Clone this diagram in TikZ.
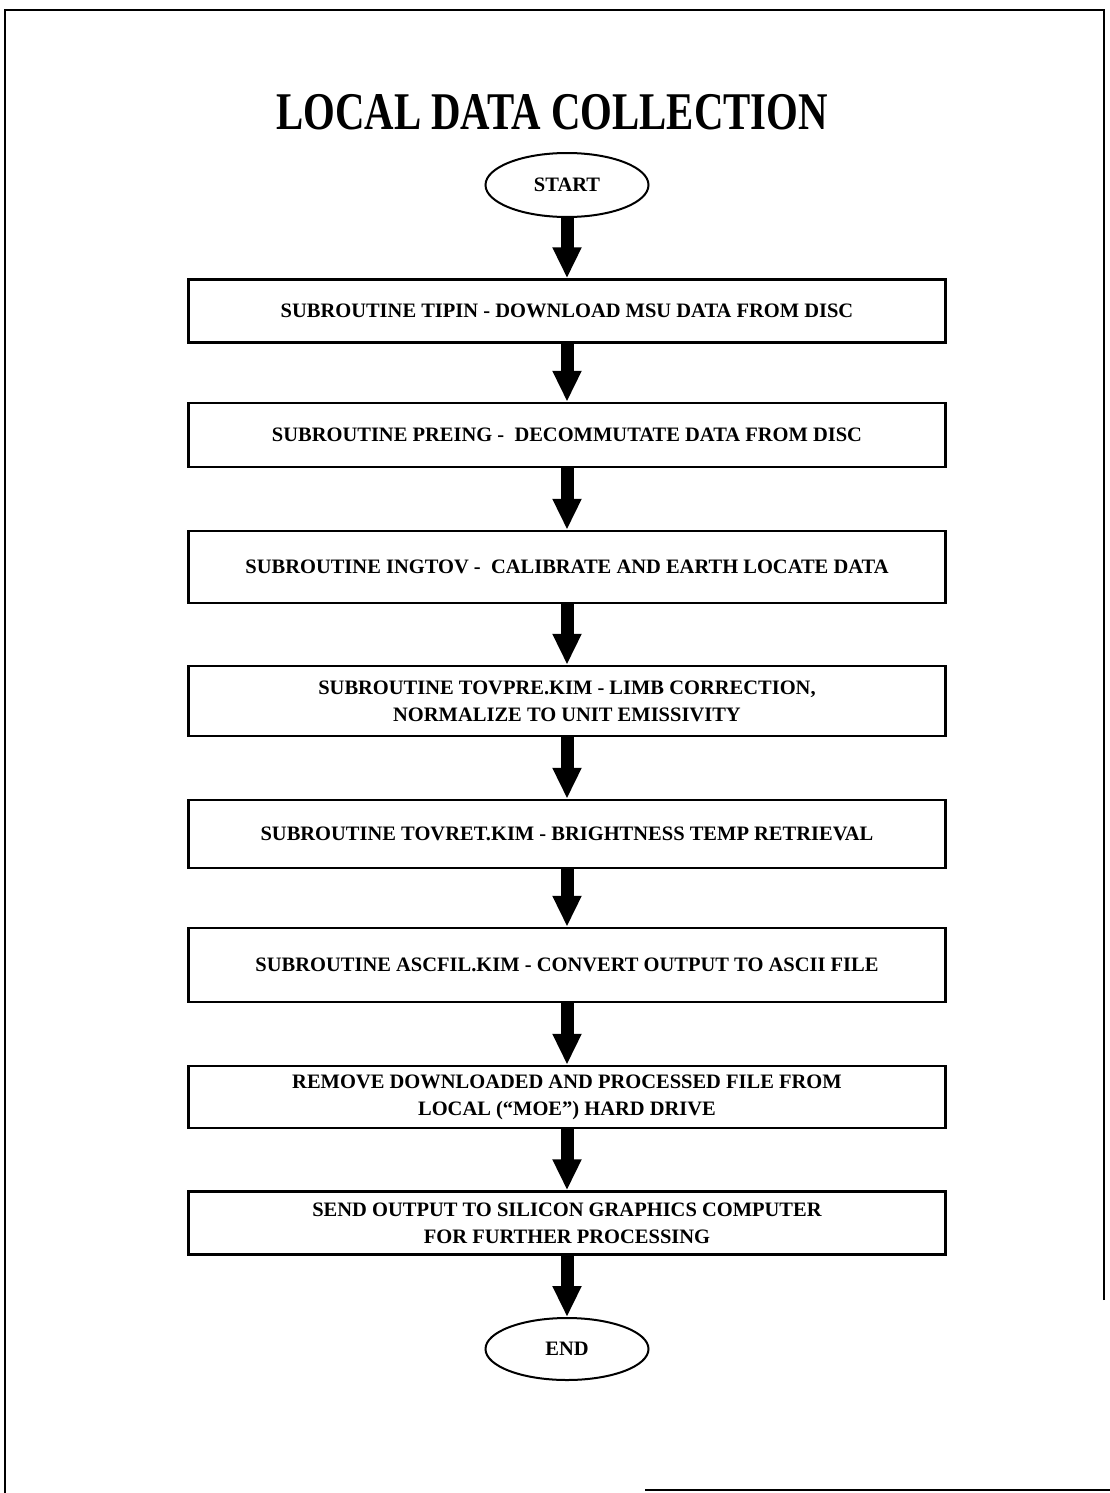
\documentclass[tikz,border=0pt]{standalone}
\usepackage{fontspec}
\setmainfont{Liberation Serif}
\usepackage{graphicx}
\usetikzlibrary{shapes.geometric, arrows.meta, positioning}

\begin{document}
\begin{tikzpicture}[
    x=1pt, y=-1pt,
    every node/.style={font=\bfseries\fontsize{20.5}{27}\selectfont},
    terminal/.style={ellipse, draw=black, line width=2pt, minimum width=163pt, minimum height=64pt, inner sep=0pt},
    procbox/.style={rectangle, draw=black, line width=2.4pt, minimum width=757pt, align=center, inner sep=0pt},
    flowarrow/.style={-{Triangle[width=27pt,length=31pt]}, line width=13pt}
]
\useasboundingbox (0,0) rectangle (1110,1493);

% Page frame
\draw[line width=2pt] (1104,1300) -- (1104,10) -- (5,10) -- (5,1493);
\draw[line width=2pt] (645,1490) -- (1110,1490);

% Title
\node[font=\bfseries\fontsize{53}{60}\selectfont] (title) at (552,112) {\scalebox{0.77}[1]{LOCAL DATA COLLECTION}};

% Start
\node[terminal] (start) at (567,185) {START};

% Processing steps
\node[procbox, minimum height=63pt] (tipin) at (567,311) {SUBROUTINE TIPIN - DOWNLOAD MSU DATA FROM DISC};
\node[procbox, minimum height=64pt] (preing) at (567,435) {SUBROUTINE PREING - \ DECOMMUTATE DATA FROM DISC};
\node[procbox, minimum height=72pt] (ingtov) at (567,567) {SUBROUTINE INGTOV - \ CALIBRATE AND EARTH LOCATE DATA};
\node[procbox, minimum height=70pt] (tovpre) at (567,701) {SUBROUTINE TOVPRE.KIM - LIMB CORRECTION,\\ NORMALIZE TO UNIT EMISSIVITY};
\node[procbox, minimum height=68pt] (tovret) at (567,834) {SUBROUTINE TOVRET.KIM - BRIGHTNESS TEMP RETRIEVAL};
\node[procbox, minimum height=74pt] (ascfil) at (567,965) {SUBROUTINE ASCFIL.KIM - CONVERT OUTPUT TO ASCII FILE};
\node[procbox, minimum height=62pt] (remove) at (567,1097) {REMOVE DOWNLOADED AND PROCESSED FILE FROM\\ LOCAL (“MOE”) HARD DRIVE};
\node[procbox, minimum height=63pt] (send) at (567,1223) {SEND OUTPUT TO SILICON GRAPHICS COMPUTER\\ FOR FURTHER PROCESSING};

% End
\node[terminal, minimum height=62pt] (stop) at (567,1349) {END};

% Arrows
\draw[flowarrow] (start) -- (tipin);
\draw[flowarrow] (tipin) -- (preing);
\draw[flowarrow] (preing) -- (ingtov);
\draw[flowarrow] (ingtov) -- (tovpre);
\draw[flowarrow] (tovpre) -- (tovret);
\draw[flowarrow] (tovret) -- (ascfil);
\draw[flowarrow] (ascfil) -- (remove);
\draw[flowarrow] (remove) -- (send);
\draw[flowarrow] (send) -- (stop);

\end{tikzpicture}
\end{document}
